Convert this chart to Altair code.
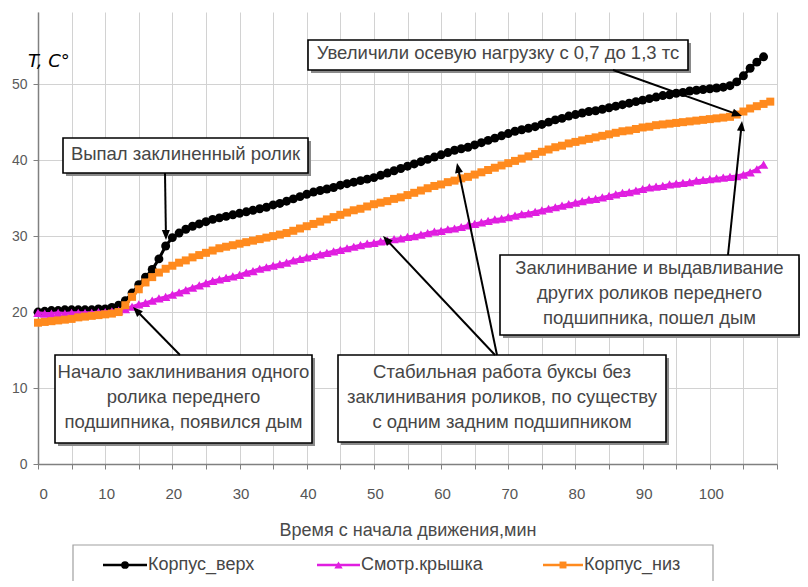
import math
import altair as alt
import pandas as pd

# ---------------- DATA ----------------
t_verh = list(range(0, 109))
korpus_verh = [
    20.0, 20.1, 20.2, 20.2, 20.3, 20.3, 20.3, 20.3, 20.3, 20.4, 20.4,
    20.6, 20.9, 21.5, 22.5, 23.6, 24.6, 25.6, 27.0, 28.7, 29.8,
    30.4, 30.9, 31.3, 31.6, 31.9, 32.2, 32.4, 32.6, 32.8, 33.0,
    33.2, 33.4, 33.6, 33.8, 34.1, 34.3, 34.6, 34.9, 35.2, 35.5,
    35.8, 36.0, 36.2, 36.4, 36.7, 36.9, 37.1, 37.3, 37.5, 37.7,
    38.0, 38.3, 38.6, 38.9, 39.2, 39.5, 39.8, 40.1, 40.4, 40.7,
    41.0, 41.3, 41.5, 41.7, 42.0, 42.3, 42.6, 42.9, 43.2, 43.5,
    43.8, 44.0, 44.2, 44.4, 44.7, 45.0, 45.3, 45.5, 45.8, 46.0,
    46.2, 46.4, 46.5, 46.7, 46.9, 47.1, 47.3, 47.5, 47.7, 47.9,
    48.1, 48.3, 48.5, 48.6, 48.8, 48.9, 49.1, 49.2, 49.3, 49.4,
    49.5, 49.6, 49.8, 50.3, 51.1, 52.1, 52.9, 53.6,
]

t_kryshka = list(range(0, 109))
smotr_kryshka = [
    19.9, 19.8, 19.8, 19.9, 19.8, 19.9, 19.9, 19.9, 19.9, 20.0, 20.0,
    20.1, 20.2, 20.4, 20.7, 21.0, 21.2, 21.5, 21.8, 22.0, 22.3,
    22.6, 22.9, 23.2, 23.5, 23.8, 24.1, 24.3, 24.5, 24.7, 24.9,
    25.2, 25.4, 25.7, 25.9, 26.1, 26.3, 26.5, 26.8, 27.0, 27.2,
    27.4, 27.6, 27.8, 28.0, 28.2, 28.4, 28.6, 28.8, 29.0, 29.1,
    29.3, 29.4, 29.6, 29.7, 29.9, 30.0, 30.2, 30.4, 30.6, 30.7,
    30.9, 31.0, 31.2, 31.4, 31.6, 31.8, 32.0, 32.2, 32.3, 32.5,
    32.7, 32.9, 33.0, 33.2, 33.4, 33.6, 33.8, 34.0, 34.2, 34.4,
    34.6, 34.8, 34.9, 35.1, 35.3, 35.5, 35.7, 35.8, 36.0, 36.2,
    36.4, 36.5, 36.6, 36.8, 36.9, 37.0, 37.1, 37.3, 37.4, 37.5,
    37.6, 37.7, 37.8, 37.9, 38.1, 38.4, 38.8, 39.4,
]

t_niz = list(range(0, 110))
korpus_niz = [
    18.6, 18.7, 18.8, 18.9, 19.0, 19.1, 19.3, 19.4, 19.5, 19.6, 19.7,
    19.8, 20.0, 20.9, 22.0, 23.0, 23.9, 24.6, 25.2, 25.7, 26.1,
    26.5, 26.8, 27.2, 27.5, 27.8, 28.1, 28.4, 28.6, 28.8, 29.0,
    29.2, 29.4, 29.6, 29.8, 30.0, 30.2, 30.4, 30.7, 31.0, 31.3,
    31.6, 31.9, 32.2, 32.5, 32.8, 33.1, 33.4, 33.6, 33.9, 34.2,
    34.4, 34.6, 34.9, 35.1, 35.4, 35.7, 36.0, 36.3, 36.6, 36.8,
    37.1, 37.3, 37.6, 37.8, 38.1, 38.4, 38.7, 39.0, 39.3, 39.6,
    39.9, 40.2, 40.5, 40.8, 41.1, 41.4, 41.7, 41.9, 42.2, 42.4,
    42.6, 42.8, 43.0, 43.2, 43.4, 43.6, 43.8, 43.9, 44.1, 44.3,
    44.4, 44.6, 44.7, 44.8, 44.9, 45.0, 45.1, 45.2, 45.3, 45.4,
    45.5, 45.6, 45.7, 46.0, 46.4, 46.8, 47.1, 47.4, 47.7,
]

series_names = ["Корпус_верх", "Смотр.крышка", "Корпус_низ"]
x_tick_values = [0, 5, 10, 15, 20, 25, 30, 35, 40, 45, 50, 55, 60, 65, 70, 75, 80, 85, 90, 95, 100, 105, 110]
y_tick_values = [0, 10, 20, 30, 40, 50]
x_title = "Время с начала движения,мин"
y_label = "T,  C°"

notes = [
    ["Выпал заклиненный ролик"],
    ["Увеличили осевую нагрузку с 0,7 до 1,3 тс"],
    ["Заклинивание и выдавливание", "других роликов  переднего", "подшипника, пошел дым"],
    ["Начало заклинивания одного", "ролика переднего", "подшипника, появился дым"],
    ["Стабильная работа буксы  без", "заклинивания роликов, по существу", "с одним задним подшипником"],
]

# ---------------- LAYOUT / STYLE ----------------
W, H = 739, 452
OX, OY = 38, 12          # page position of plot area's top-left corner
FONT = "Liberation Sans"
TEXT_GRAY = "#464646"
COLORS = ["#000000", "#e01ee0", "#ff8a1e"]
SHAPES = ["circle", "triangle-up", "square"]
SIZES = [80, 90, 64]
LEGEND_SIZES = [60, 70, 48]
LINE_H = 25

# boxes in page pixels: (x1, y1, x2, y2)
note_boxes = [
    (63, 138, 308, 173),
    (308, 40, 688, 70),
    (500, 255, 799, 335),
    (55, 355, 312, 443),
    (338, 355, 666, 442),
]
# arrows in page pixels: (x_from, y_from, x_tip, y_tip)
arrows = [
    (165, 173, 166, 240),
    (613, 70, 742, 116),
    (728, 255, 742, 121),
    (180, 355, 133, 307),
    (495, 355, 383, 236),
    (497, 355, 457, 163),
]
legend_box = (73, 545, 713, 583)
legend_items_x = [(103, 147), (317, 360), (543, 583)]  # line start/end (page px)
legend_y = 565


def px(x):
    return x - OX


def py(y):
    return y - OY


one = pd.DataFrame({"k": [0]})

xscale = alt.Scale(domain=[0, 110], nice=False, zero=False)
yscale = alt.Scale(domain=[0, 59.5], nice=False)

xaxis = alt.Axis(
    values=x_tick_values,
    labelExpr="datum.value % 10 === 0 && datum.value <= 100 ? datum.label : ''",
    labelOverlap=False,
    grid=True, gridColor="#d2d2d2", gridWidth=1,
    domainColor="#808080", domainWidth=1.5,
    tickColor="#808080", tickSize=5,
    labelFont=FONT, labelFontSize=15, labelColor="#555555",
    labelBaseline="middle", labelPadding=24, labelOffset=1,
    title=x_title, titleFont=FONT, titleFontSize=18, titleFontWeight="normal",
    titleColor="#4a4a4a", titleY=66, titleBaseline="middle",
)
yaxis = alt.Axis(
    values=y_tick_values,
    grid=True, gridColor="#d2d2d2", gridWidth=1,
    domainColor="#808080", domainWidth=1.5,
    tickColor="#808080", tickSize=5,
    labelFont=FONT, labelFontSize=14, labelColor="#5a5a5a",
    labelPadding=6, title=None,
)

layers = []
for name, tt, vv, color, shape, size in zip(
    series_names,
    [t_verh, t_kryshka, t_niz],
    [korpus_verh, smotr_kryshka, korpus_niz],
    COLORS, SHAPES, SIZES,
):
    df = pd.DataFrame({"t": tt, "v": vv, "s": name})
    base = alt.Chart(df).encode(
        x=alt.X("t:Q", scale=xscale, axis=xaxis),
        y=alt.Y("v:Q", scale=yscale, axis=yaxis),
    )
    layers.append(base.mark_line(color=color, strokeWidth=3))
    layers.append(base.mark_point(shape=shape, filled=True, color=color, size=size, opacity=1))

# y label "T, C°"
layers.append(
    alt.Chart(one).mark_text(
        text=y_label, font="DejaVu Sans", fontStyle="italic", fontSize=18,
        align="left", baseline="middle", color="#000000",
    ).encode(x=alt.value(px(28)), y=alt.value(py(62)))
)

# annotation boxes (shadow, box, text)
for (x1, y1, x2, y2), lines in zip(note_boxes, notes):
    layers.append(
        alt.Chart(one).mark_rect(color="#8a8a8a").encode(
            x=alt.value(px(x1 + 3)), x2=alt.value(px(x2 + 3)),
            y=alt.value(py(y1 + 3)), y2=alt.value(py(y2 + 3)),
        )
    )
    layers.append(
        alt.Chart(one).mark_rect(fill="#ffffff", stroke="#000000", strokeWidth=1.6).encode(
            x=alt.value(px(x1)), x2=alt.value(px(x2)),
            y=alt.value(py(y1)), y2=alt.value(py(y2)),
        )
    )
    first_y = (y1 + y2) / 2 - 2 - (len(lines) - 1) * LINE_H / 2
    layers.append(
        alt.Chart(one).mark_text(
            text=lines if len(lines) > 1 else lines[0], font=FONT, fontSize=18.5,
            align="center", baseline="middle", lineHeight=LINE_H, color=TEXT_GRAY,
        ).encode(x=alt.value(px((x1 + x2) / 2)), y=alt.value(py(first_y)))
    )

# arrows
HEAD = "M0,0 L-1,2.5 L1,2.5 Z"
for (xa, ya, xb, yb) in arrows:
    dx, dy = xb - xa, yb - ya
    L = math.hypot(dx, dy)
    ex, ey = xb - dx / L * 7, yb - dy / L * 7
    ang = math.degrees(math.atan2(dx, -dy)) % 360
    layers.append(
        alt.Chart(one).mark_rule(color="#000000", strokeWidth=2).encode(
            x=alt.value(px(xa)), x2=alt.value(px(ex)),
            y=alt.value(py(ya)), y2=alt.value(py(ey)),
        )
    )
    layers.append(
        alt.Chart(one).mark_point(
            shape=HEAD, filled=True, color="#000000", size=64, angle=ang, opacity=1,
        ).encode(x=alt.value(px(xb)), y=alt.value(py(yb)))
    )

# legend
lx1, ly1, lx2, ly2 = legend_box
layers.append(
    alt.Chart(one).mark_rect(fill="#ffffff", stroke="#a0a0a0", strokeWidth=1.2).encode(
        x=alt.value(px(lx1)), x2=alt.value(px(lx2)),
        y=alt.value(py(ly1)), y2=alt.value(py(ly2)),
    )
)
for name, (a, b), color, shape, size in zip(series_names, legend_items_x, COLORS, SHAPES, LEGEND_SIZES):
    layers.append(
        alt.Chart(one).mark_rule(color=color, strokeWidth=2.5).encode(
            x=alt.value(px(a)), x2=alt.value(px(b)),
            y=alt.value(py(legend_y)), y2=alt.value(py(legend_y)),
        )
    )
    layers.append(
        alt.Chart(one).mark_point(shape=shape, filled=True, color=color, size=size, opacity=1).encode(
            x=alt.value(px((a + b) / 2)), y=alt.value(py(legend_y))
        )
    )
    layers.append(
        alt.Chart(one).mark_text(
            text=name, font=FONT, fontSize=18, align="left", baseline="middle", color=TEXT_GRAY,
        ).encode(x=alt.value(px(b + 1)), y=alt.value(py(legend_y)))
    )

chart = alt.layer(*layers).properties(
    width=W, height=H,
    autosize=alt.AutoSizeParams(type="none"),
    padding={"left": 30, "top": 4, "right": 23, "bottom": 117},
).configure_view(stroke=None)

chart.save("out.html", embed_options={"renderer": "svg", "actions": False})
